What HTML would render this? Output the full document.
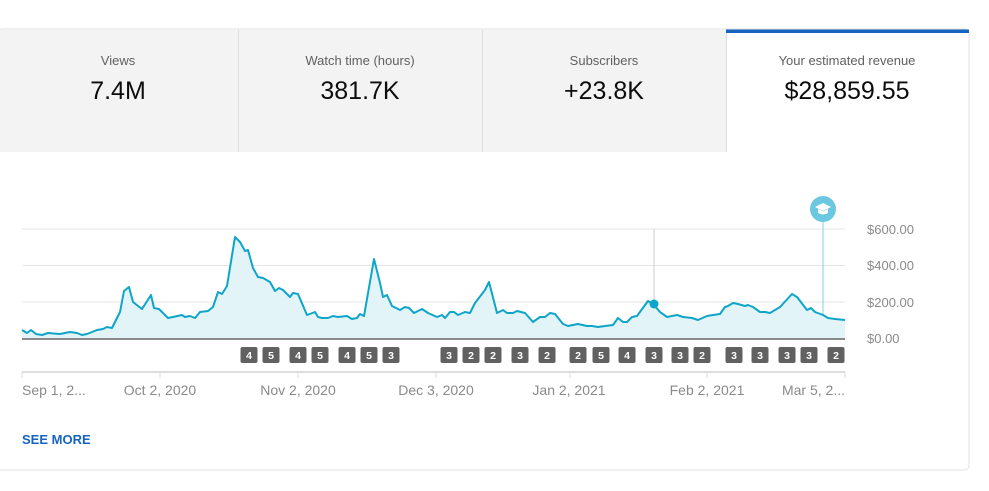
<!DOCTYPE html>
<html><head><meta charset="utf-8"><style>
body{margin:0;background:#fff;width:989px;height:486px;overflow:hidden;font-family:"Liberation Sans",sans-serif}
</style></head><body>
<svg width="989" height="486" xmlns="http://www.w3.org/2000/svg" font-family="Liberation Sans, sans-serif">
<rect x="-2" y="29" width="971" height="441" rx="4" fill="#fff" stroke="#e0e0e0"/>
<rect x="0" y="30" width="726" height="122" fill="#f3f3f3"/>
<line x1="238.5" y1="30" x2="238.5" y2="152" stroke="#ddd"/>
<line x1="482.5" y1="30" x2="482.5" y2="152" stroke="#ddd"/>
<line x1="726.5" y1="30" x2="726.5" y2="152" stroke="#ddd"/>
<rect x="726" y="29.5" width="243" height="3.5" fill="#1565c0"/>
<g text-anchor="middle" fill="#606060" font-size="13">
<text x="118" y="65">Views</text><text x="360" y="65">Watch time (hours)</text>
<text x="604" y="65">Subscribers</text><text x="847" y="65">Your estimated revenue</text></g>
<g text-anchor="middle" fill="#0d0d0d" font-size="25">
<text x="118" y="99">7.4M</text><text x="360" y="99">381.7K</text>
<text x="604" y="99">+23.8K</text><text x="847" y="99">$28,859.55</text></g>
<g stroke="#e6e6e6"><line x1="22" y1="229" x2="845" y2="229"/><line x1="22" y1="265.5" x2="845" y2="265.5"/><line x1="22" y1="302" x2="845" y2="302"/></g>
<g fill="#8a8a8a" font-size="13"><text x="867" y="234">$600.00</text><text x="867" y="270">$400.00</text><text x="867" y="307">$200.00</text><text x="867" y="343">$0.00</text></g>
<line x1="654" y1="229" x2="654" y2="339" stroke="#ccc"/>
<line x1="823" y1="218" x2="823" y2="339" stroke="#7fd0e6"/>
<circle cx="823" cy="209" r="13" fill="#6cc8e0"/>
<path d="M815 207 l8 -4 l8 4 l-8 4z M818 209 v4 q5 3 10 0 v-4 l-5 2.5z" fill="#fff"/>
<polygon fill="#e2f4f8" points="22,339 22,330 27,333 31,330 36,334 42,335 48,333 60,334 70,332 77,333 82,335 87,334 97,330 103,329 107,327 112,328 120,312 124,291 129,287 133,302 142,309 151,295 154,308 159,309 168,318 173,317 182,315 185,317 190,316 195,318 200,312 208,311 213,307 218,292 222,294 227,286 235,237 240,242 245,251 248,250 253,268 258,277 263,278 270,282 275,291 279,288 283,290 290,297 293,293 298,294 307,315 315,312 318,317 322,318 328,318 333,316 338,317 347,316 352,319 357,318 360,314 364,316 374,259 380,283 383,297 387,295 392,306 400,310 405,307 409,308 414,313 422,309 428,313 437,317 442,315 445,318 450,312 454,312 458,315 465,312 470,313 475,303 485,290 489,282 497,313 503,310 507,313 513,313 517,311 525,313 533,322 540,317 545,317 550,313 555,314 563,324 568,326 578,324 587,326 592,326 598,327 605,326 613,325 618,318 623,322 627,322 632,317 637,316 648,301 654,305 660,312 667,317 677,315 683,317 692,318 698,320 707,316 713,315 720,314 725,307 728,306 733,303 738,304 745,306 748,305 753,307 760,312 765,312 770,313 780,307 792,294 797,297 807,310 811,308 815,312 823,315 828,318 835,319 845,320 845,339"/>
<polyline fill="none" stroke="#0ea5c8" stroke-width="2" stroke-linejoin="round" points="22,330 27,333 31,330 36,334 42,335 48,333 60,334 70,332 77,333 82,335 87,334 97,330 103,329 107,327 112,328 120,312 124,291 129,287 133,302 142,309 151,295 154,308 159,309 168,318 173,317 182,315 185,317 190,316 195,318 200,312 208,311 213,307 218,292 222,294 227,286 235,237 240,242 245,251 248,250 253,268 258,277 263,278 270,282 275,291 279,288 283,290 290,297 293,293 298,294 307,315 315,312 318,317 322,318 328,318 333,316 338,317 347,316 352,319 357,318 360,314 364,316 374,259 380,283 383,297 387,295 392,306 400,310 405,307 409,308 414,313 422,309 428,313 437,317 442,315 445,318 450,312 454,312 458,315 465,312 470,313 475,303 485,290 489,282 497,313 503,310 507,313 513,313 517,311 525,313 533,322 540,317 545,317 550,313 555,314 563,324 568,326 578,324 587,326 592,326 598,327 605,326 613,325 618,318 623,322 627,322 632,317 637,316 648,301 654,305 660,312 667,317 677,315 683,317 692,318 698,320 707,316 713,315 720,314 725,307 728,306 733,303 738,304 745,306 748,305 753,307 760,312 765,312 770,313 780,307 792,294 797,297 807,310 811,308 815,312 823,315 828,318 835,319 845,320"/>
<circle cx="654" cy="304" r="4.5" fill="#0ea5c8"/>
<line x1="22" y1="339" x2="845" y2="339" stroke="#8a8a8a" stroke-width="2"/>
<g font-size="10.5" font-weight="bold" fill="#fff" text-anchor="middle">
<g fill="#616161"><rect x="240.5" y="347" width="17" height="16" rx="2"/><rect x="262.5" y="347" width="17" height="16" rx="2"/><rect x="289.5" y="347" width="17" height="16" rx="2"/><rect x="311.5" y="347" width="17" height="16" rx="2"/><rect x="338.5" y="347" width="17" height="16" rx="2"/><rect x="360.5" y="347" width="17" height="16" rx="2"/><rect x="382.5" y="347" width="17" height="16" rx="2"/><rect x="440.5" y="347" width="17" height="16" rx="2"/><rect x="462.5" y="347" width="17" height="16" rx="2"/><rect x="484.5" y="347" width="17" height="16" rx="2"/><rect x="511.5" y="347" width="17" height="16" rx="2"/><rect x="538.5" y="347" width="17" height="16" rx="2"/><rect x="569.5" y="347" width="17" height="16" rx="2"/><rect x="592.5" y="347" width="17" height="16" rx="2"/><rect x="618.5" y="347" width="17" height="16" rx="2"/><rect x="645.5" y="347" width="17" height="16" rx="2"/><rect x="671.5" y="347" width="17" height="16" rx="2"/><rect x="693.5" y="347" width="17" height="16" rx="2"/><rect x="725.5" y="347" width="17" height="16" rx="2"/><rect x="751.5" y="347" width="17" height="16" rx="2"/><rect x="778.5" y="347" width="17" height="16" rx="2"/><rect x="800.5" y="347" width="17" height="16" rx="2"/><rect x="827.5" y="347" width="17" height="16" rx="2"/></g>
<text x="249" y="359">4</text><text x="271" y="359">5</text><text x="298" y="359">4</text><text x="320" y="359">5</text><text x="347" y="359">4</text><text x="369" y="359">5</text><text x="391" y="359">3</text><text x="449" y="359">3</text><text x="471" y="359">2</text><text x="493" y="359">2</text><text x="520" y="359">3</text><text x="547" y="359">2</text><text x="578" y="359">2</text><text x="601" y="359">5</text><text x="627" y="359">4</text><text x="654" y="359">3</text><text x="680" y="359">3</text><text x="702" y="359">2</text><text x="734" y="359">3</text><text x="760" y="359">3</text><text x="787" y="359">3</text><text x="809" y="359">3</text><text x="836" y="359">2</text></g>
<line x1="22" y1="372" x2="845" y2="372" stroke="#ddd" stroke-width="2"/>
<g stroke="#ddd"><line x1="22" y1="372" x2="22" y2="378"/><line x1="160" y1="372" x2="160" y2="378"/><line x1="298" y1="372" x2="298" y2="378"/><line x1="436" y1="372" x2="436" y2="378"/><line x1="570" y1="372" x2="570" y2="378"/><line x1="707" y1="372" x2="707" y2="378"/><line x1="845" y1="372" x2="845" y2="378"/></g>
<g fill="#8a8a8a" font-size="14"><text x="22" y="395">Sep 1, 2...</text>
<g text-anchor="middle"><text x="160" y="395">Oct 2, 2020</text><text x="298" y="395">Nov 2, 2020</text><text x="436" y="395">Dec 3, 2020</text><text x="569" y="395">Jan 2, 2021</text><text x="707" y="395">Feb 2, 2021</text></g>
<text x="845" y="395" text-anchor="end">Mar 5, 2...</text></g>
<text x="22" y="444" fill="#1565c0" font-size="13" font-weight="bold">SEE MORE</text>
</svg>
</body></html>
